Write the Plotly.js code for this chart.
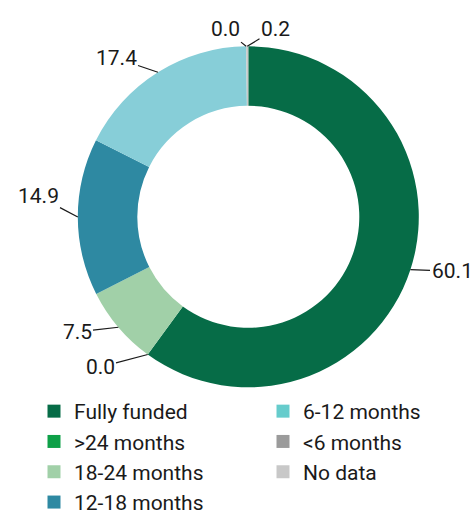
<!DOCTYPE html>
<html>
<head>
<meta charset="utf-8">
<script src="https://cdn.plot.ly/plotly-3.0.1.min.js"></script>
<style>html,body{margin:0;padding:0;background:#fff;}#chart{width:475px;height:512px;}</style>
</head>
<body>
<div id="chart"></div>
<script>
// ---- data ----
const categories = ["Fully funded", ">24 months", "18-24 months", "12-18 months", "6-12 months", "<6 months", "No data"];
const values = [60.1, 0.0, 7.5, 14.9, 17.4, 0.0, 0.2];
const valueLabels = ["60.1", "0.0", "7.5", "14.9", "17.4", "0.0", "0.2"];
const legendCol1 = ["Fully funded", ">24 months", "18-24 months", "12-18 months"];
const legendCol2 = ["6-12 months", "<6 months", "No data"];

// ---- styles ----
const sliceColors = ["#066c47", "#0ea048", "#a1d0a8", "#2e89a2", "#87ced8", "#9b9b9b", "#c8c8c8"];
const legendColors = {"Fully funded":"#066c47", ">24 months":"#0ea048", "18-24 months":"#a1d0a8", "12-18 months":"#2e89a2", "6-12 months":"#66cccc", "<6 months":"#9b9b9b", "No data":"#c8c8c8"};
// label text centres in px (layout only)
const labelPos = [[452,271],[100,367],[77,332],[38,196],[116,58],[225,29],[275.5,29]];

const W = 475, H = 512;
const cx = 248.3, cy = 216.8, R = 170.5;
const FONT = "Roboto, 'Liberation Sans', sans-serif";
const TXT = "#1a1a1a";

const traces = [{
  type: "pie",
  labels: categories,
  values: values,
  sort: false,
  direction: "clockwise",
  rotation: 0,
  hole: 0.651,
  textinfo: "none",
  hoverinfo: "label+value",
  showlegend: false,
  marker: {colors: sliceColors, line: {width: 0}},
  domain: {x: [(cx - R) / W, (cx + R) / W], y: [1 - (cy + R) / H, 1 - (cy - R) / H]}
}];

legendCol1.forEach((c, i) => traces.push({
  type: "scatter", mode: "markers", x: [null], y: [null], name: c,
  legend: "legend", legendgroup: "a" + i,
  marker: {symbol: "square", size: 13, color: legendColors[c], line: {width: 0}}
}));
legendCol2.forEach((c, i) => traces.push({
  type: "scatter", mode: "markers", x: [null], y: [null], name: c,
  legend: "legend2", legendgroup: "b" + i,
  marker: {symbol: "square", size: 13, color: legendColors[c], line: {width: 0}}
}));

// leader-line annotations from slice mid-angles
const total = values.reduce((a, b) => a + b, 0);
let cum = 0;
const annotations = values.map((v, i) => {
  const mid = (cum + v / 2) / total * 2 * Math.PI;
  cum += v;
  const tx = cx + R * Math.sin(mid), ty = cy - R * Math.cos(mid);
  return {
    xref: "paper", yref: "paper", x: tx / W, y: 1 - ty / H,
    text: valueLabels[i], showarrow: true, arrowhead: 0, arrowwidth: 1.2,
    arrowcolor: TXT, standoff: 0,
    ax: labelPos[i][0] - tx, ay: labelPos[i][1] - ty,
    font: {family: FONT, size: 21, color: TXT}
  };
});

const legendBase = {
  orientation: "v", xanchor: "left", yanchor: "top",
  font: {family: FONT, size: 21, color: TXT},
  bgcolor: "rgba(0,0,0,0)", borderwidth: 0, tracegroupgap: 0, itemclick: false,
  maxheight: 400
};

const layout = {
  width: W, height: H,
  margin: {l: 0, r: 0, t: 0, b: 0, autoexpand: false},
  paper_bgcolor: "#fff", plot_bgcolor: "#fff",
  showlegend: true,
  xaxis: {visible: false}, yaxis: {visible: false},
  legend: Object.assign({}, legendBase, {x: 34 / W, y: 1 - 391 / H}),
  legend2: Object.assign({}, legendBase, {x: 263 / W, y: 1 - 391 / H}),
  annotations: annotations
};

Plotly.newPlot("chart", traces, layout, {displayModeBar: false, staticPlot: true});
</script>
</body>
</html>
